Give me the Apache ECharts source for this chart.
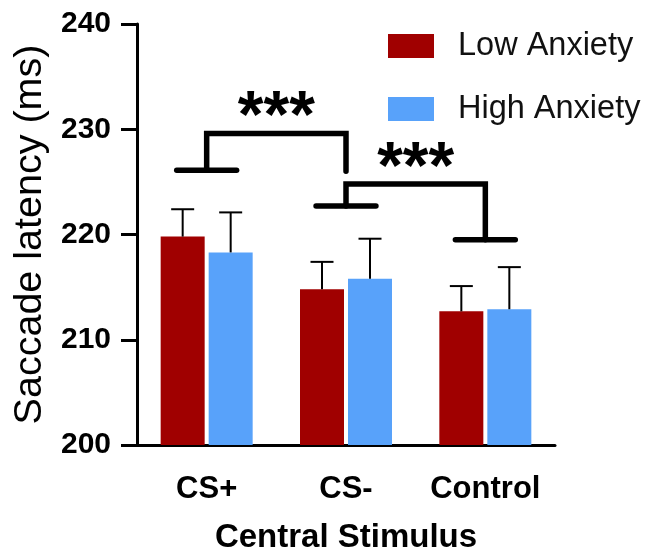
<!DOCTYPE html>
<html>
<head>
<meta charset="utf-8">
<script src="https://cdn.jsdelivr.net/npm/echarts@6/dist/echarts.min.js"></script>
<style>html,body{margin:0;padding:0;background:#fff}#c{width:648px;height:548px}</style>
</head>
<body>
<div id="c"></div>
<script>
// ---- data ----
const categories = ['CS+', 'CS-', 'Control'];
const seriesNames = ['Low Anxiety', 'High Anxiety'];
const lowMeans = [219.8, 214.8, 212.7];
const lowErrTop = [222.4, 217.4, 215.1];
const highMeans = [218.3, 215.8, 212.9];
const highErrTop = [222.1, 219.6, 216.9];
const yTicks = [200, 210, 220, 230, 240];
// significance T-bars under each group and connecting brackets
const groupBarCats = ['CS+', 'CS-', 'Control'];
const groupBarLevels = [226.1, 222.7, 219.5];
const bracketFrom = ['CS+', 'CS-'];
const bracketTo = ['CS-', 'Control'];
const bracketFromLevel = [226.1, 222.7];
const bracketToLevel = [226.0, 219.5];
const bracketTop = [229.6, 224.8];
const bracketLabels = ['***', '***'];

const RED = '#a00000', BLUE = '#58a2fa';
const BAR_W = 44, GAP = 4;
const FONT = 'Liberation Sans';

function errItem(offset) {
  return function (params, api) {
    const base = api.coord([api.value(0), api.value(1)]);
    const tp = api.coord([api.value(0), api.value(2)]);
    const x = base[0] + offset;
    return {
      type: 'group',
      children: [
        {type: 'line', shape: {x1: x, y1: base[1], x2: x, y2: tp[1]}, style: {stroke: '#000', lineWidth: 2}},
        {type: 'line', shape: {x1: x - 11.5, y1: tp[1], x2: x + 11.5, y2: tp[1]}, style: {stroke: '#000', lineWidth: 2}}
      ]
    };
  };
}

const chart = echarts.init(document.getElementById('c'), null, {renderer: 'canvas'});
const option = {
  animation: false,
  backgroundColor: '#fff',
  grid: {left: 137, top: 24, width: 418, height: 421, containLabel: false, outerBoundsMode: 'none'},
  legend: {
    orient: 'vertical', left: 388, top: 29.5, padding: 0, itemWidth: 46, itemHeight: 24, itemGap: 30,
    icon: 'rect',
    textStyle: {fontFamily: FONT, fontSize: 32.5, color: '#111', padding: [0, 0, 0, 19]},
    data: seriesNames
  },
  xAxis: {
    type: 'category', data: categories,
    axisLine: {lineStyle: {color: '#000', width: 3}},
    axisTick: {alignWithLabel: true, length: 18, lineStyle: {color: '#000', width: 3}},
    axisLabel: {interval: 0, fontFamily: FONT, fontWeight: 'bold', fontSize: 31, color: '#000', margin: 29},
    name: 'Central Stimulus', nameLocation: 'middle', nameGap: 76,
    nameTextStyle: {fontFamily: FONT, fontWeight: 'bold', fontSize: 33, color: '#000'}
  },
  yAxis: {
    type: 'value', min: yTicks[0], max: yTicks[yTicks.length - 1], interval: 10,
    splitLine: {show: false},
    axisLine: {show: true, lineStyle: {color: '#000', width: 3}},
    axisTick: {show: true, length: 16, lineStyle: {color: '#000', width: 3}},
    axisLabel: {fontFamily: FONT, fontWeight: 'bold', fontSize: 30, color: '#000', margin: 26},
    name: 'Saccade latency (ms)', nameLocation: 'middle', nameGap: 87,
    nameTextStyle: {fontFamily: FONT, fontSize: 39.5, color: '#000'}
  },
  series: [
    {name: seriesNames[0], type: 'bar', data: lowMeans, barWidth: BAR_W, barGap: (GAP / BAR_W * 100) + '%', itemStyle: {color: RED}},
    {name: seriesNames[1], type: 'bar', data: highMeans, barWidth: BAR_W, itemStyle: {color: BLUE}},
    {type: 'custom', z: 5, renderItem: errItem(-(BAR_W + GAP) / 2),
     data: lowMeans.map((m, i) => [i, m, lowErrTop[i]])},
    {type: 'custom', z: 5, renderItem: errItem((BAR_W + GAP) / 2),
     data: highMeans.map((m, i) => [i, m, highErrTop[i]])},
    {type: 'custom', z: 6,
     data: groupBarCats.map((c, i) => [categories.indexOf(c), groupBarLevels[i]]),
     renderItem: function (params, api) {
       const p = api.coord([api.value(0), api.value(1)]);
       const half = api.size([1, 0])[0] * 0.215;
       return {type: 'line', shape: {x1: p[0] - half, y1: p[1], x2: p[0] + half, y2: p[1]},
               style: {stroke: '#000', lineWidth: 5.5, lineCap: 'round'}};
     }},
    {type: 'custom', z: 6,
     data: bracketFrom.map((c, i) => [categories.indexOf(c), categories.indexOf(bracketTo[i]), bracketFromLevel[i], bracketToLevel[i], bracketTop[i], i]),
     renderItem: function (params, api) {
       const a = api.coord([api.value(0), api.value(2)]);
       const b = api.coord([api.value(1), api.value(3)]);
       const t = api.coord([api.value(0), api.value(4)])[1];
       const idx = api.value(5);
       return {type: 'group', children: [
         {type: 'polyline', shape: {points: [[a[0], a[1]], [a[0], t], [b[0], t], [b[0], b[1]]]},
          style: {stroke: '#000', lineWidth: 5.5, fill: null, lineJoin: 'miter', lineCap: 'round'}},
         {type: 'text', style: {text: bracketLabels[idx], x: (a[0] + b[0]) / 2, y: t + 18.5,
          align: 'center', verticalAlign: 'bottom', fill: '#000',
          font: 'bold 66px "Liberation Sans"'}}
       ]};
     }}
  ]
};
chart.setOption(option);
</script>
</body>
</html>
